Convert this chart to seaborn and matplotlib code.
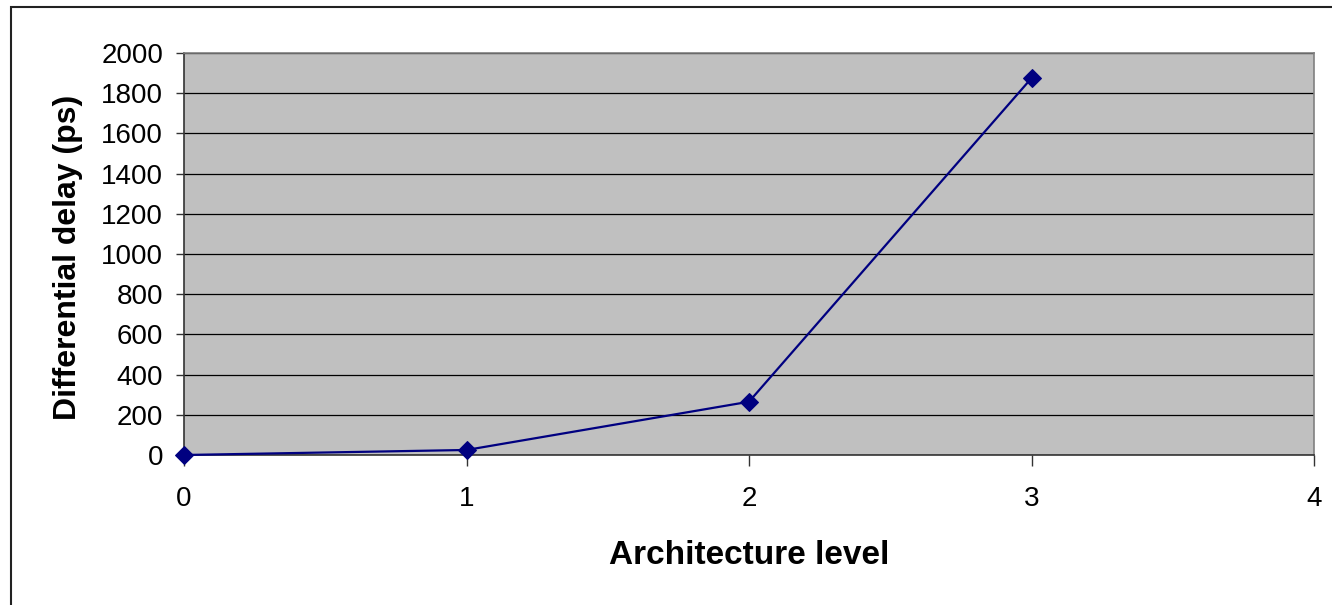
import matplotlib
matplotlib.use("Agg")
import matplotlib.pyplot as plt
from matplotlib.patches import Rectangle
import seaborn as sns
import pandas as pd

levels = [0, 1, 2, 3]
delay_ps = [0, 25, 265, 1875]
x_ticks = [0, 1, 2, 3, 4]
y_ticks = [0, 200, 400, 600, 800, 1000, 1200, 1400, 1600, 1800, 2000]

sns.set_theme(style="white")
plt.rcParams["font.family"] = ["Liberation Sans", "DejaVu Sans"]
plt.rcParams["text.color"] = "black"
plt.rcParams["axes.labelcolor"] = "black"
plt.rcParams["xtick.color"] = "black"
plt.rcParams["ytick.color"] = "black"

W, H = 1332, 605
fig = plt.figure(figsize=(W / 100, H / 100), dpi=100)
ax = fig.add_axes([184 / W, 1 - 455 / H, (1314 - 184) / W, (455 - 53) / H])

# outer chart frame (left and top edges visible)
fig.patches.append(Rectangle((11 / W, -0.1), 1.2, 1 - 7 / H + 0.1,
                             transform=fig.transFigure, fill=False,
                             edgecolor="#222222", linewidth=1.5, zorder=0))

ax.set_facecolor("#C0C0C0")
df = pd.DataFrame({"level": levels, "delay": delay_ps})
sns.lineplot(data=df, x="level", y="delay", ax=ax, color="#000080",
             marker="D", markersize=9, markeredgecolor="#000080",
             linewidth=1.6, zorder=3, clip_on=False)

ax.set_xlim(0, 4)
ax.set_ylim(0, 2000)
ax.set_xticks(x_ticks)
ax.set_yticks(y_ticks)
ax.set_xticklabels([str(t) for t in x_ticks])
ax.set_yticklabels([str(t) for t in y_ticks])
ax.yaxis.grid(True, color="#000000", linewidth=0.9)
ax.xaxis.grid(False)

for side in ["top", "right"]:
    ax.spines[side].set_color("#808080")
    ax.spines[side].set_linewidth(1.2)
for side in ["left", "bottom"]:
    ax.spines[side].set_color("#333333")
    ax.spines[side].set_linewidth(1.2)

ax.tick_params(axis="y", direction="out", length=6, width=1, color="#333333",
               labelsize=20, pad=9, left=True)
ax.tick_params(axis="x", direction="out", length=8, width=1, color="#333333",
               labelsize=20, pad=14, bottom=True)

ax.set_xlabel("Architecture level", fontsize=24, fontweight="bold")
ax.set_ylabel("Differential delay (ps)", fontsize=23, fontweight="bold")
ax.xaxis.set_label_coords(0.5, -(556 - 455) / (455 - 53), transform=ax.transAxes)
ax.yaxis.set_label_coords(-(184 - 68) / (1314 - 184), (455 - 257) / (455 - 53),
                          transform=ax.transAxes)
ax.xaxis.label.set_va("center")
ax.yaxis.label.set_va("center")

fig.savefig("out.png", dpi=100)
